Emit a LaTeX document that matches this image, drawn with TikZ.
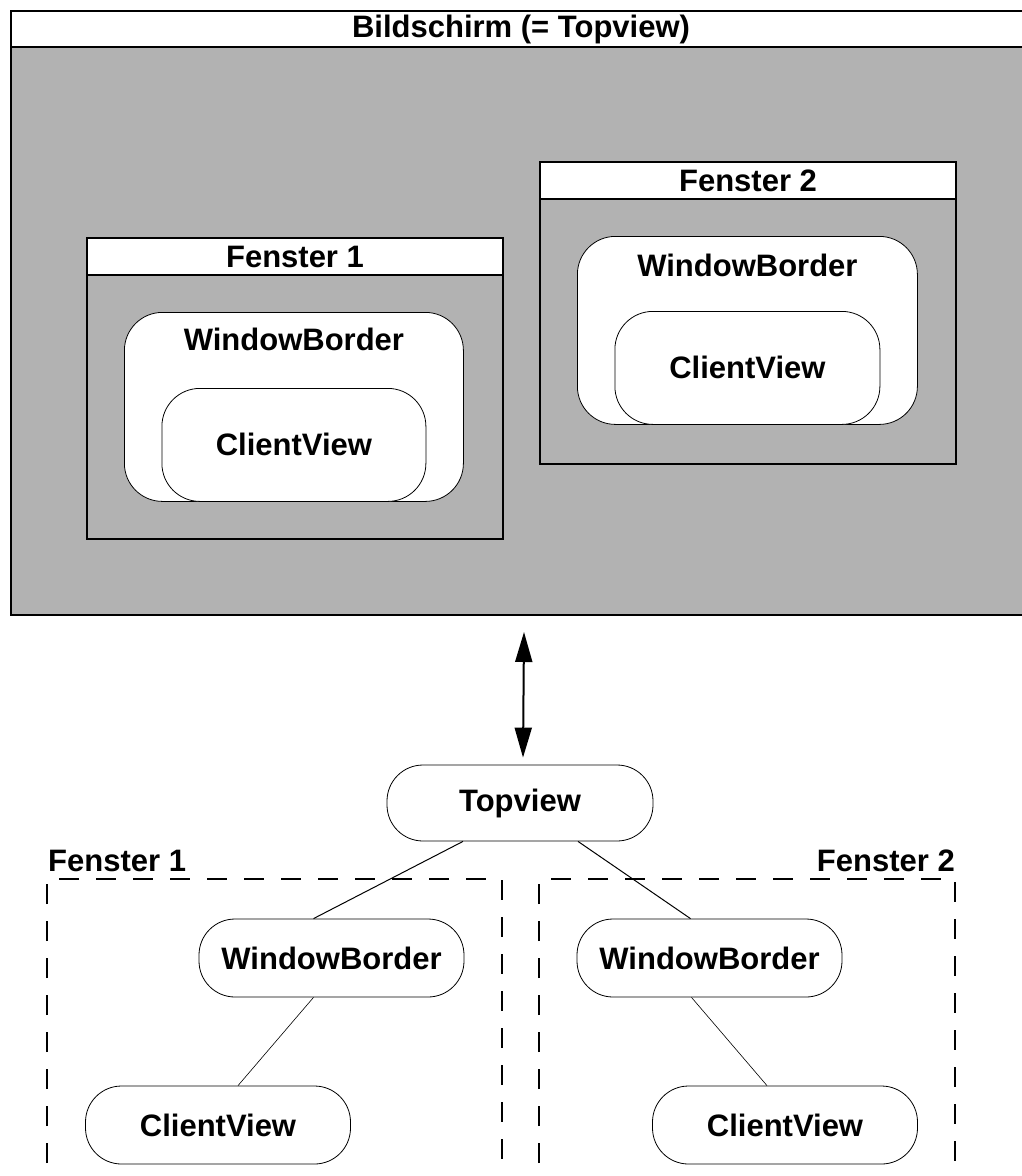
\documentclass[tikz,border=0pt]{standalone}
\usepackage{fontspec}
\setmainfont{Liberation Sans}
\usetikzlibrary{arrows.meta}
\definecolor{screengray}{gray}{0.7}
\tikzset{
  winbox/.style={draw, line width=2pt, fill=screengray, inner sep=0pt},
  band/.style={draw, line width=2pt, fill=white, inner sep=0pt, minimum height=37pt},
  roundbox/.style={draw, line width=0.8pt, fill=white, rounded corners=38pt, inner sep=0pt},
  pill/.style={draw, line width=0.8pt, rounded corners=36pt, minimum width=265pt, minimum height=78pt, inner sep=0pt},
  fensterframe/.style={dash pattern=on 20pt off 17pt, line width=1.5pt},
  bigtri/.tip={Triangle[length=30pt,width=17pt]}
}
\begin{document}
\begin{tikzpicture}[x=1pt, y=-1pt, font=\fontsize{31}{37}\selectfont\bfseries]
    \useasboundingbox (0,0) rectangle (1021,1176);
    \node [winbox, minimum width=1020pt, minimum height=604pt, anchor=north west] (screen) at (10,10) {};
    \node [band, minimum width=1020pt, minimum height=36pt, anchor=north] (screentitle) at (screen.north) {Bildschirm (= Topview)};

    \node [winbox, minimum width=416pt, minimum height=301pt, anchor=north west] (win1) at (86,237) {};
    \node [band, minimum width=416pt, anchor=north] (win1title) at (win1.north) {Fenster 1};
    \node [roundbox, minimum width=339pt, minimum height=189pt, anchor=north west] (wb1) at (124,312) {};
    \node (wb1label) at ([yshift=-27pt]wb1.north) {WindowBorder};
    \node [roundbox, minimum width=264pt, minimum height=113pt, anchor=south] (cv1) at (wb1.south) {ClientView};

    \node [winbox, minimum width=416pt, minimum height=302pt, anchor=north west] (win2) at (539,161) {};
    \node [band, minimum width=416pt, anchor=north] (win2title) at (win2.north) {Fenster 2};
    \node [roundbox, minimum width=340pt, minimum height=188pt, anchor=north west] (wb2) at (577,236) {};
    \node (wb2label) at ([yshift=-29pt]wb2.north) {WindowBorder};
    \node [roundbox, minimum width=265pt, minimum height=113pt, anchor=south] (cv2) at (wb2.south) {ClientView};

    \node [pill, minimum width=266pt, minimum height=76pt] (tv) at (520,803) {Topview};
    \node [pill] (wba) at (331.5,958) {WindowBorder};
    \node [pill] (cva) at (218,1125) {ClientView};
    \node [pill] (wbb) at (709.5,958) {WindowBorder};
    \node [pill] (cvb) at (785,1125) {ClientView};

    \draw [line width=2pt, bigtri-bigtri] ([xshift=3pt,yshift=-16pt]screen.south) -- ([xshift=3pt,yshift=7pt]tv.north);
    \draw [line width=1pt] ([xshift=-57pt]tv.south) -- ([xshift=-18pt]wba.north);
    \draw [line width=1pt] ([xshift=58pt]tv.south) -- ([xshift=-19pt]wbb.north);
    \draw [line width=0.6pt] ([xshift=-18pt]wba.south) -- ([xshift=20pt]cva.north);
    \draw [line width=0.6pt] ([xshift=-18pt]wbb.south) -- ([xshift=-18pt]cvb.north);

    \draw [fensterframe] (47,1200) -- (47,879) -- (502,879) -- (502,1200);
    \draw [fensterframe] (539,1200) -- (539,879) -- (955,879) -- (955,1200);
    \node [anchor=base west, inner sep=0pt] (f1label) at (48,871) {Fenster 1};
    \node [anchor=base east, inner sep=0pt] (f2label) at (955,871) {Fenster 2};
\end{tikzpicture}
\end{document}
